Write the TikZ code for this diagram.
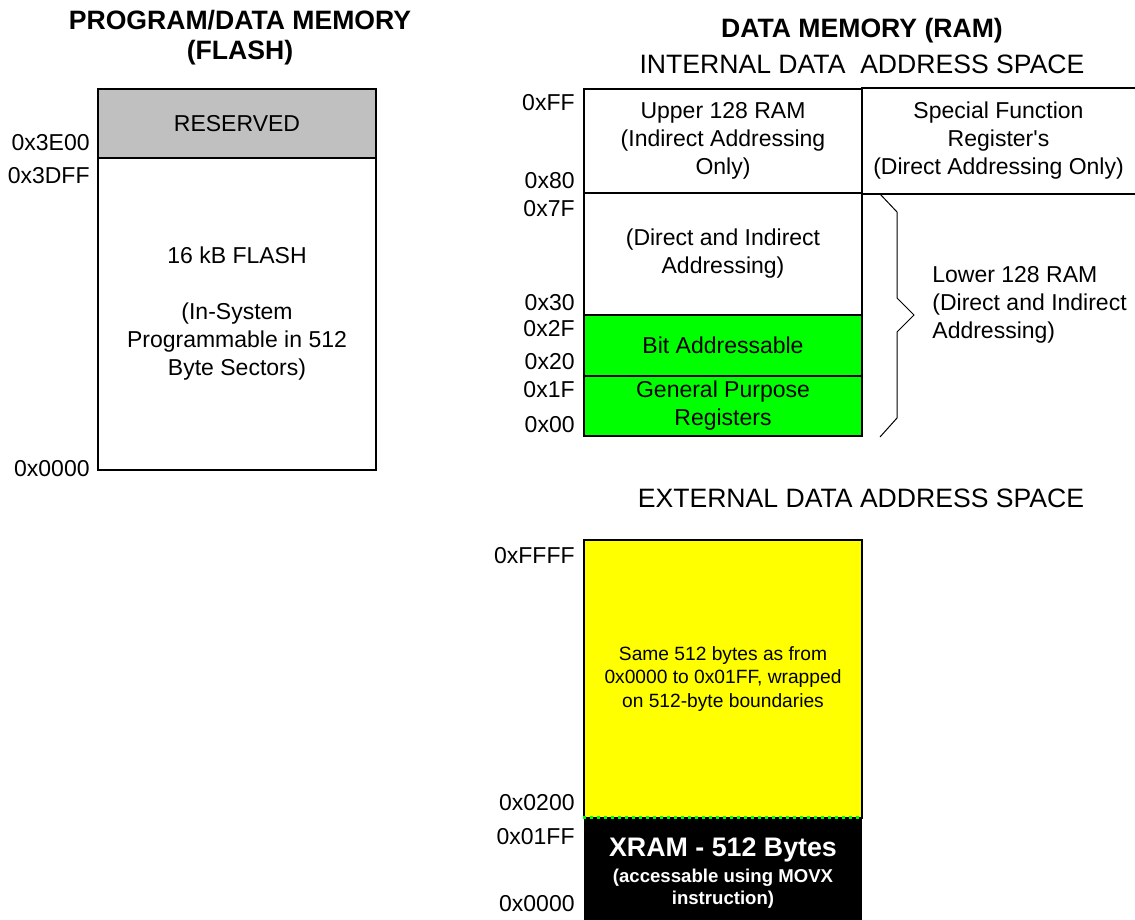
\documentclass[tikz,border=0pt]{standalone}
\usepackage{fontspec}
\setmainfont{Liberation Sans}
\usepackage{tikz}
\usetikzlibrary{positioning}
\definecolor{flashgray}{RGB}{192,192,192}
\definecolor{bitgreen}{RGB}{0,255,0}
\definecolor{xyellow}{RGB}{255,255,0}
\tikzstyle{region} = [draw, rectangle, line width=1pt, inner sep=0pt, align=center, minimum width=139pt]
\tikzstyle{addr} = [anchor=east, inner sep=0pt]
\tikzstyle{heading} = [align=center, font=\bfseries\fontsize{13.3}{15}\selectfont]
\tikzstyle{subheading} = [align=center, font=\fontsize{13.3}{15}\selectfont]
\tikzstyle{brace} = [line width=0.5pt]

\begin{document}
\begin{tikzpicture}[x=0.5pt, y=-0.5pt, font=\fontsize{11.5}{14}\selectfont]
    \useasboundingbox (0,0) rectangle (1135,920);

    % program memory
    \node[heading] (flashtitle) at (240,38) {PROGRAM/DATA MEMORY\\(FLASH)};
    \node[region, fill=flashgray, minimum height=34.5pt] (reserved) at (237,123.5) {RESERVED};
    \node[region, minimum height=156pt] (flash) at (237,314) {16 kB FLASH\\[14pt](In-System\\Programmable in 512\\Byte Sectors)};
    \node[addr] (a3e00) at (90,143) {0x3E00};
    \node[addr] (a3dff) at (90,176) {0x3DFF};
    \node[addr] (a0000) at (90,469) {0x0000};

    % internal data memory
    \node[heading] (ramtitle) at (862,31) {DATA MEMORY (RAM)};
    \node[subheading] (inttitle) at (862,64) {INTERNAL DATA\ \ ADDRESS SPACE};
    \node[region, minimum height=52pt] (upper) at (723,141) {Upper 128 RAM\\(Indirect Addressing\\Only)};
    \node[region, draw=none, minimum width=136.5pt, minimum height=52pt] (sfr) at (998.5,141) {Special Function\\Register\textquotesingle s\\(Direct Addressing Only)};
    \draw[line width=1pt] (sfr.north west) -- ([xshift=3pt]sfr.north east)
        (sfr.south west) -- ([xshift=3pt]sfr.south east);
    \node[region, minimum height=61pt] (direct) at (723,254) {(Direct and Indirect\\Addressing)};
    \node[region, fill=bitgreen, minimum height=30.5pt] (bitaddr) at (723,345.5) {Bit Addressable};
    \node[region, fill=bitgreen, minimum height=30pt] (gpr) at (723,406) {General Purpose\\Registers};

    \node[addr] (aff) at (575,103) {0xFF};
    \node[addr] (a80) at (575,181) {0x80};
    \node[addr] (a7f) at (575,209) {0x7F};
    \node[addr] (a30) at (575,303) {0x30};
    \node[addr] (a2f) at (575,329) {0x2F};
    \node[addr] (a20) at (575,362) {0x20};
    \node[addr] (a1f) at (575,390) {0x1F};
    \node[addr] (a00) at (575,425) {0x00};

    \draw[brace] (880,194) -- (897,212) -- (897,298) -- (914,315) -- (897,332) -- (897,418) -- (880,437);
    \node[anchor=west, align=left, inner sep=0pt] (lower) at (932,305) {Lower 128 RAM\\(Direct and Indirect\\Addressing)};

    % external data memory
    \node[subheading] (exttitle) at (861,498) {EXTERNAL DATA ADDRESS SPACE};
    \node[region, fill=xyellow, minimum height=139pt, font=\fontsize{9.6}{11.75}\selectfont] (wrap) at (723,679) {Same 512 bytes as from\\0x0000 to 0x01FF, wrapped\\on 512-byte boundaries};
    \node[region, draw=none, fill=black, text=white, minimum height=55pt, font=\bfseries\fontsize{9.3}{11}\selectfont] (xram) at (723,873) {{\fontsize{13.4}{16}\selectfont XRAM - 512 Bytes}\\[2pt](accessable using MOVX\\instruction)};
    \draw[bitgreen, dotted, line width=1.5pt] (xram.north west) -- (xram.north east);

    \node[addr] (affff) at (575,556) {0xFFFF};
    \node[addr] (a0200) at (575,803) {0x0200};
    \node[addr] (a01ff) at (575,837) {0x01FF};
    \node[addr] (ax0000) at (575,904) {0x0000};
\end{tikzpicture}
\end{document}
